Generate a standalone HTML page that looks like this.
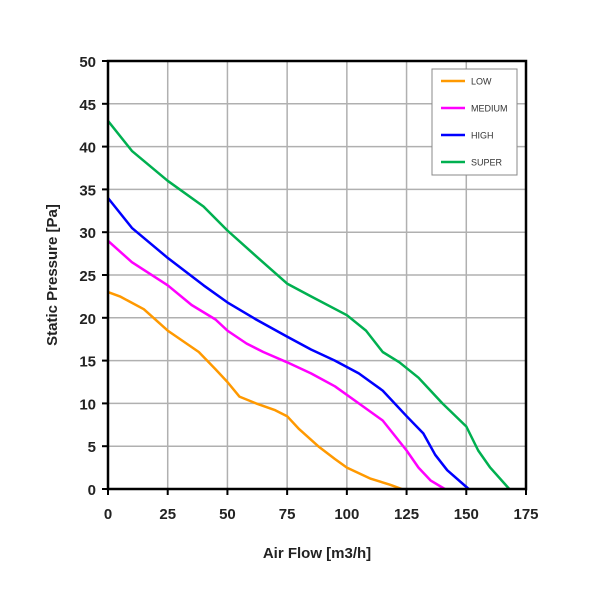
<!DOCTYPE html>
<html><head><meta charset="utf-8"><style>
body{margin:0;background:#fff}
svg text{font-family:"Liberation Sans",Arial,sans-serif}
</style></head><body>
<svg width="600" height="600" viewBox="0 0 600 600">
<g id="grid"></g>
<g id="series"></g>
<g id="axes"></g>
<g id="legend"></g>
<text x="317" y="558" text-anchor="middle" font-size="15" font-weight="bold" fill="#222">Air Flow [m3/h]</text>
<text transform="translate(57,275) rotate(-90)" text-anchor="middle" font-size="15" font-weight="bold" fill="#222">Static Pressure [Pa]</text>
</svg>
<script>
const xTicks=[0,25,50,75,100,125,150,175];
const yTicks=[0,5,10,15,20,25,30,35,40,45,50];
const seriesNames=["LOW","MEDIUM","HIGH","SUPER"];
const seriesColors=["#ff9900","#ff00ff","#0000ff","#00b050"];
const lowX=[0,5,15,25,38,45,50,55,62,70,75,80,88,95,100,110,118,123];
const lowY=[23,22.5,21,18.5,16,14,12.5,10.8,10,9.2,8.5,7,5,3.5,2.5,1.2,0.5,0];
const medX=[0,10,25,35,45,50,58,65,75,85,95,105,115,125,130,135,141];
const medY=[29,26.5,23.8,21.5,19.8,18.5,17,16,14.8,13.5,12,10,8,4.5,2.5,1,0];
const highX=[0,10,25,40,50,62,75,85,95,105,115,125,132,137,142,151];
const highY=[34,30.5,27,23.8,21.8,19.8,17.8,16.3,15,13.5,11.5,8.5,6.5,4,2.2,0];
const superX=[0,10,25,40,50,62,75,85,100,108,115,122,130,140,150,155,160,168];
const superY=[43,39.5,36,33,30.2,27.2,24,22.5,20.3,18.5,16,14.8,13,10,7.3,4.5,2.5,0];
const allX=[lowX,medX,highX,superX], allY=[lowY,medY,highY,superY];
const L=108,R=526,T=61,B=489;
const sx=v=>L+(v-0)/175*(R-L), sy=v=>B-(v/50)*(B-T);
const NS="http://www.w3.org/2000/svg";
function mk(tag,attrs,parent){const e=document.createElementNS(NS,tag);for(const k in attrs)e.setAttribute(k,attrs[k]);parent.appendChild(e);return e;}
const grid=document.getElementById('grid'),axes=document.getElementById('axes'),ser=document.getElementById('series'),leg=document.getElementById('legend');
xTicks.forEach(t=>{
 if(t>0&&t<175){const g=mk('line',{x1:sx(t),x2:sx(t),y1:T,y2:B,stroke:'#b0b0b0','stroke-width':1.5},grid);
 
 }
 const tk=mk('line',{x1:sx(t),x2:sx(t),y1:B,y2:B+6,stroke:'#000','stroke-width':2},axes);
 
 
 const tx=mk('text',{x:sx(t),y:B+30,'text-anchor':'middle','font-size':15,'font-weight':'bold',fill:'#222'},axes);
 tx.textContent=t;
 
 
});
yTicks.forEach(t=>{
 if(t>0&&t<50){const g=mk('line',{x1:L,x2:R,y1:sy(t),y2:sy(t),stroke:'#b0b0b0','stroke-width':1.5},grid);
 
 }
 const tk=mk('line',{x1:L-6,x2:L,y1:sy(t),y2:sy(t),stroke:'#000','stroke-width':2},axes);
 
 
 const tx=mk('text',{x:L-12,y:sy(t)+6,'text-anchor':'end','font-size':15,'font-weight':'bold',fill:'#222'},axes);
 tx.textContent=t;
 
 
});
const fr=mk('rect',{x:L,y:T,width:R-L,height:B-T,fill:'none',stroke:'#000','stroke-width':2.5},axes);


allX.forEach((xs,i)=>{
 const d=xs.map((x,j)=>(j?'L':'M')+sx(x).toFixed(1)+' '+sy(allY[i][j]).toFixed(1)).join(' ');
 const p=mk('path',{d:d,fill:'none',stroke:seriesColors[i],'stroke-width':2.5,'stroke-linejoin':'round'},ser);
 
 
});
const lb=mk('rect',{x:432,y:69,width:85,height:106,fill:'#fff',stroke:'#888','stroke-width':1},leg);


seriesNames.forEach((n,i)=>{
 const y=81+i*27;
 const ln=mk('line',{x1:441,x2:465,y1:y,y2:y,stroke:seriesColors[i],'stroke-width':2.5},leg);
 
 
 const tx=mk('text',{x:471,y:y+3.5,'font-size':9,fill:'#333'},leg);
 tx.textContent=n;
 
 
});
</script>
</body></html>
